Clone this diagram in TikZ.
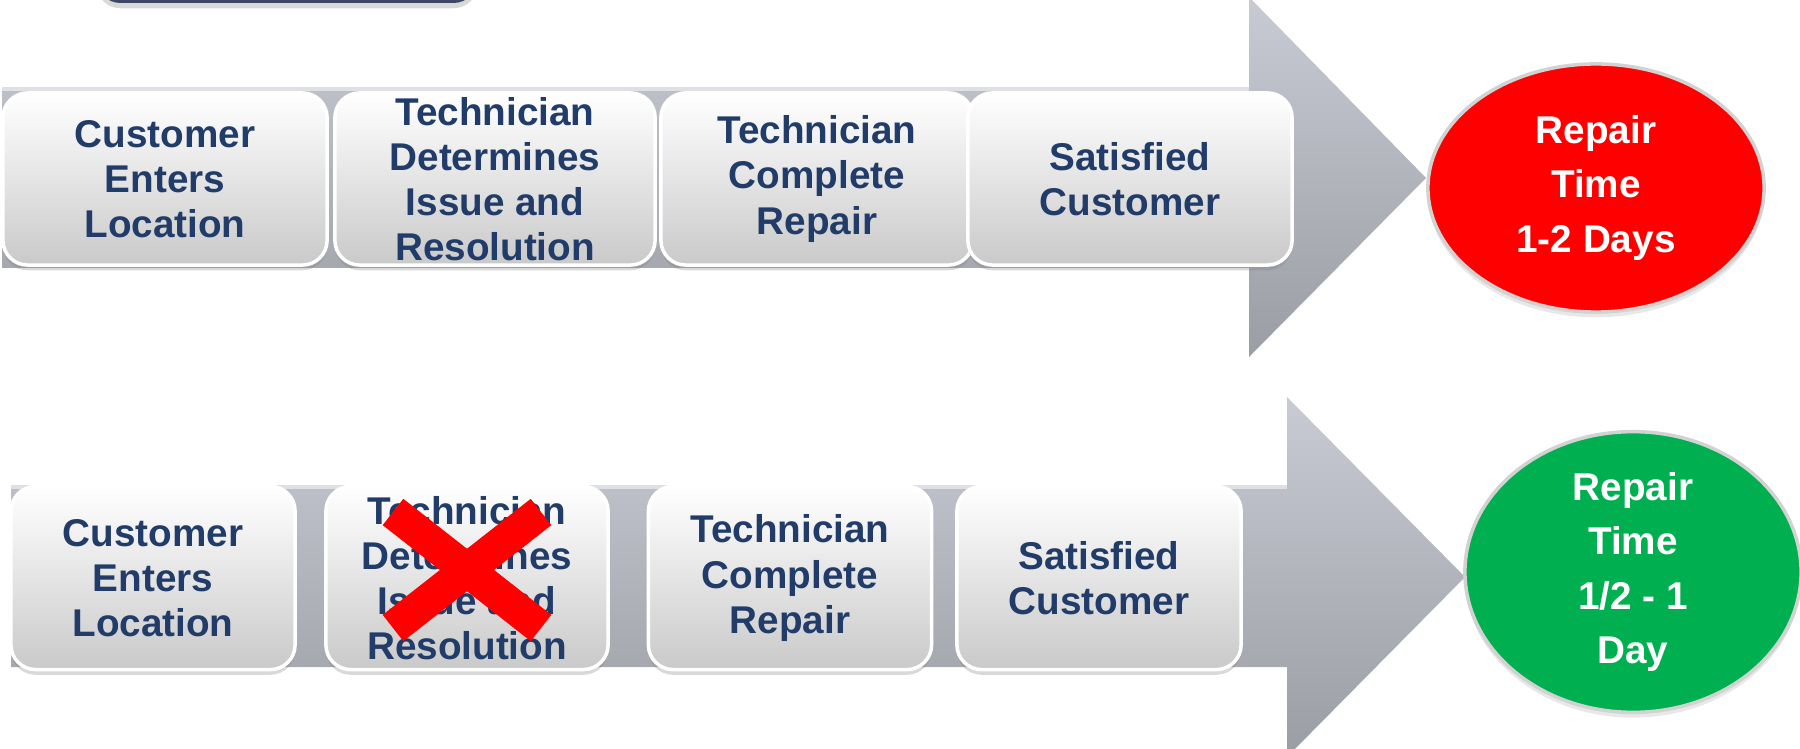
\documentclass[tikz,border=0pt]{standalone}
\usepackage{fontspec}
\setmainfont{Liberation Sans}
\usepackage{tikz}
\usepackage{xcolor}
\usetikzlibrary{shapes.geometric,shadows}

\definecolor{stepnavy}{RGB}{33,60,105}
\definecolor{arrowtop}{RGB}{200,203,212}
\definecolor{arrowbot}{RGB}{155,157,164}
\definecolor{edgegray}{RGB}{222,224,230}
\definecolor{tabslate}{RGB}{60,72,100}
\definecolor{fastgreen}{RGB}{0,176,80}

\begin{document}
\begin{tikzpicture}[x=0.01cm, y=-0.01cm,
  flowarrow/.style={top color=arrowtop, bottom color=arrowbot, draw=none},
  stepbox/.style={rounded corners=7pt, top color=white, bottom color=gray!42,
    draw=white, line width=1pt, text=stepnavy, align=center, inner sep=0pt,
    font=\bfseries\fontsize{11pt}{12.8pt}\selectfont,
    drop shadow={shadow xshift=0pt, shadow yshift=-1.5pt, opacity=0.3}},
  timeoval/.style={ellipse, draw=gray!35, line width=1pt, text=white, align=center,
    inner sep=0pt, minimum width=3.36cm, minimum height=2.48cm,
    font=\bfseries\fontsize{11pt}{15.4pt}\selectfont,
    drop shadow={shadow xshift=0pt, shadow yshift=-1.5pt, opacity=0.18}},
  xmark/.style={red, line width=9.5pt}]
  \useasboundingbox (0,0) rectangle (1800,749);
  \clip (0,0) rectangle (1800,749);

  \fill[tabslate, rounded corners=7pt, drop shadow={shadow xshift=0pt, shadow yshift=-1.5pt, opacity=0.3}]
    (96,-40) rectangle (478,3);

  % current process
  \shade[flowarrow] (2,89) -- (1249,89) -- (1249,-3) -- (1426,178) -- (1249,357)
    -- (1249,268) -- (2,268) -- cycle;
  \draw[edgegray, line width=1pt] (2,89) -- (1249,89);

  \node[stepbox, minimum width=3.24cm, minimum height=1.72cm] (t1) at (165,179) {Customer\\Enters\\Location};
  \node[stepbox, minimum width=3.20cm, minimum height=1.72cm] (t2) at (495,179) {Technician\\Determines\\Issue and\\Resolution};
  \node[stepbox, minimum width=3.12cm, minimum height=1.72cm] (t3) at (817,179) {Technician\\Complete\\Repair};
  \node[stepbox, minimum width=3.24cm, minimum height=1.72cm] (t4) at (1130,179) {Satisfied\\Customer};
  \node[timeoval, fill=red] (slow) at (1596,188) {Repair\\Time\\1-2 Days};

  % improved process
  \shade[flowarrow] (11,487) -- (1287,487) -- (1287,397) -- (1465,577) -- (1287,757)
    -- (1287,667) -- (11,667) -- cycle;
  \draw[edgegray, line width=1pt] (11,487) -- (1287,487);

  \node[stepbox, minimum width=2.84cm, minimum height=1.83cm] (b1) at (153,578) {Customer\\Enters\\Location};
  \node[stepbox, minimum width=2.82cm, minimum height=1.83cm] (b2) at (467,578) {Technician\\Determines\\Issue and\\Resolution};
  \node[stepbox, minimum width=2.83cm, minimum height=1.83cm] (b3) at (790,578) {Technician\\Complete\\Repair};
  \node[stepbox, minimum width=2.84cm, minimum height=1.83cm] (b4) at (1099,578) {Satisfied\\Customer};
  \node[timeoval, fill=fastgreen] (fast) at (1633,572) {Repair\\Time\\1/2 - 1\\Day};

  \draw[xmark] ([shift={(-74,-66)}]b2.center) -- ([shift={(74,50)}]b2.center);
  \draw[xmark] ([shift={(-74,50)}]b2.center) -- ([shift={(74,-66)}]b2.center);
\end{tikzpicture}
\end{document}
